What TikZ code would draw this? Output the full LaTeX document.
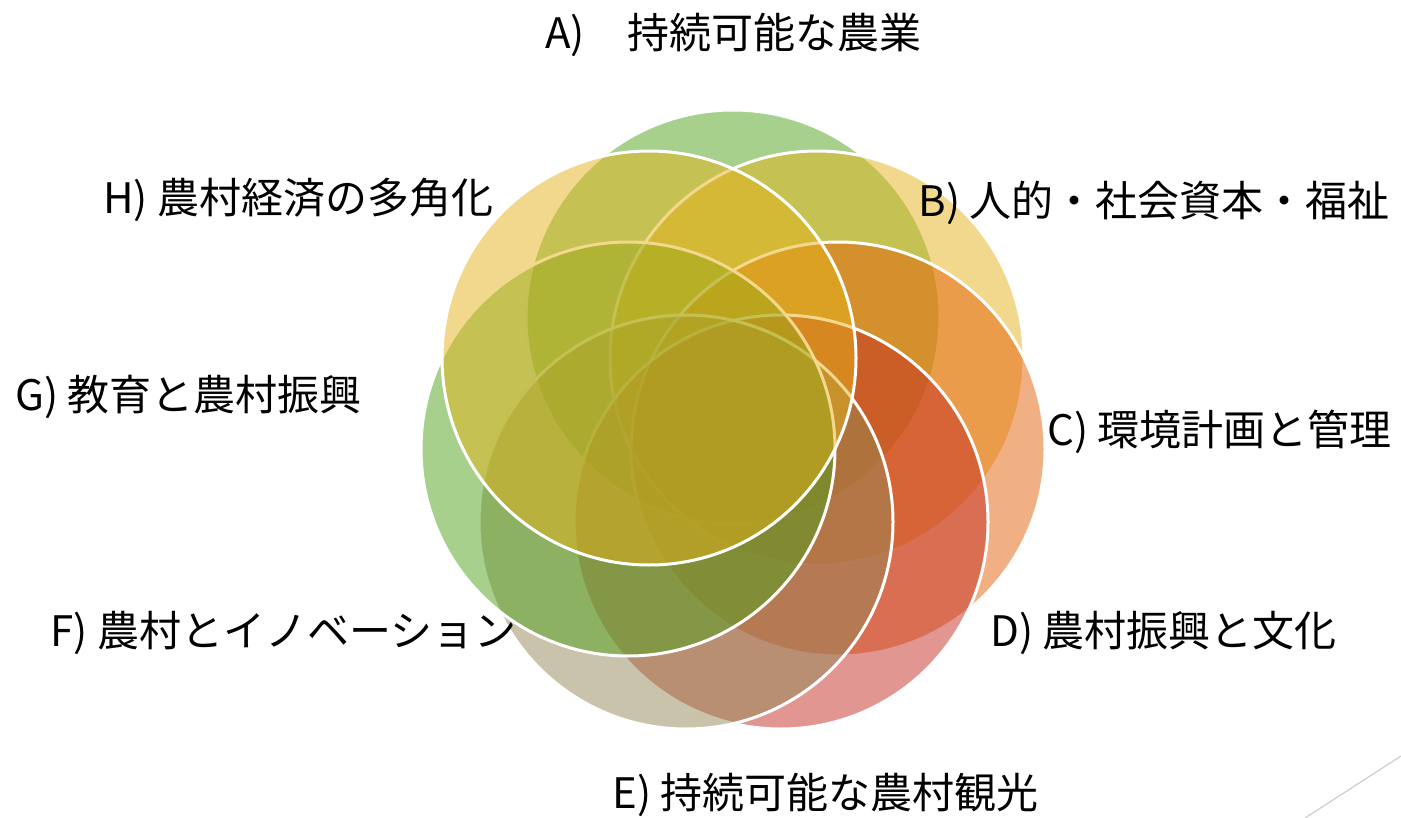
\documentclass[tikz,border=0pt]{standalone}
\usepackage{fontspec}
\setmainfont{Noto Sans CJK JP}
\definecolor{cGreen}{RGB}{80,161,28}
\definecolor{cYellow}{RGB}{228,178,26}
\definecolor{cOrange}{RGB}{227,98,8}
\definecolor{cRed}{RGB}{196,46,36}
\definecolor{cTan}{RGB}{146,136,86}
\definecolor{cLine}{RGB}{205,205,205}
\tikzset{
  venn/.style={circle, inner sep=0pt, minimum size=207pt, draw=white, line width=1.5pt, fill opacity=0.5, draw opacity=1},
  lbl/.style={anchor=west, inner sep=0pt, font=\fontsize{21pt}{25pt}\selectfont, text=black}
}
\begin{document}
\begin{tikzpicture}[x=0.5pt,y=-0.5pt]
\useasboundingbox (0,0) rectangle (1401,818);
% circles, drawn in stacking order
\node[venn, fill=cGreen]  (ca) at (733,317) {};
\node[venn, fill=cYellow] (cb) at (817,358) {};
\node[venn, fill=cOrange] (cc) at (838,449) {};
\node[venn, fill=cRed]    (cd) at (781,522) {};
\node[venn, fill=cTan]    (ce) at (686,522) {};
\node[venn, fill=cGreen]  (cg) at (628,449) {};
\node[venn, fill=cYellow] (ch) at (649,358) {};
% labels
\node[lbl] (la) at (545,35)  {A)　持続可能な農業};
\node[lbl] (lb) at (918,203) {B) 人的・社会資本・福祉};
\node[lbl] (lc) at (1047,432) {C) 環境計画と管理};
\node[lbl] (ld) at (990,633) {D) 農村振興と文化};
\node[lbl] (le) at (612,795) {E) 持続可能な農村観光};
\node[lbl] (lf) at (50,633)  {F) 農村とイノベーション};
\node[lbl] (lg) at (15,397)  {G) 教育と農村振興};
\node[lbl] (lh) at (103,200) {H) 農村経済の多角化};
% decorative corner line
\coordinate (p1) at (1305,818);
\coordinate (p2) at (1401,756);
\draw[cLine, line width=0.6pt] (p1) -- (p2);
\end{tikzpicture}
\end{document}
